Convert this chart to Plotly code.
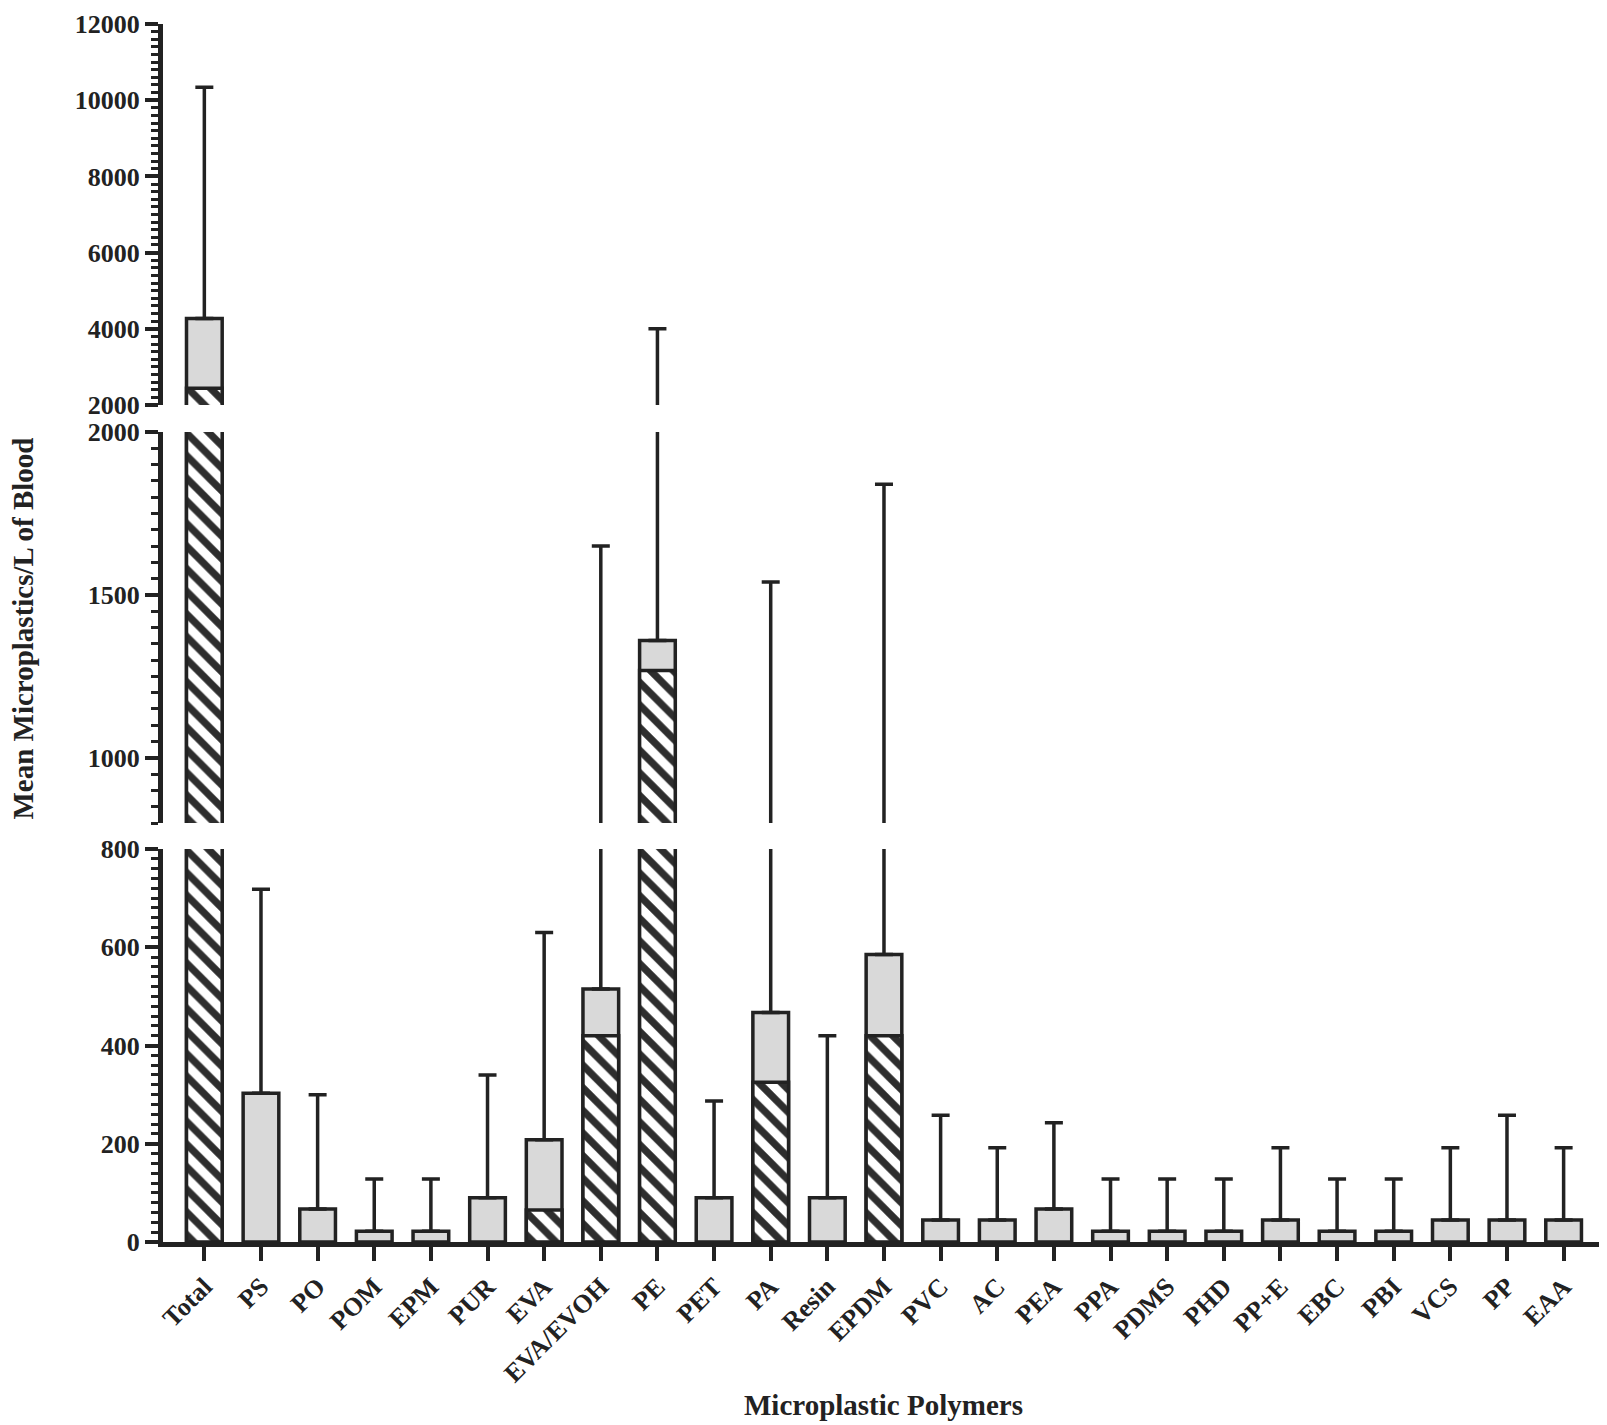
import plotly.graph_objects as go

categories = ["Total", "PS", "PO", "POM", "EPM", "PUR", "EVA", "EVA/EVOH", "PE", "PET",
              "PA", "Resin", "EPDM", "PVC", "AC", "PEA", "PPA", "PDMS", "PHD", "PP+E",
              "EBC", "PBI", "VCS", "PP", "EAA"]
mean_values = [4270, 303, 67, 22, 22, 90, 208, 515, 1360, 90,
               467, 90, 585, 45, 45, 67, 22, 22, 22, 45,
               22, 22, 45, 45, 45]
hatched_values = [2440, None, None, None, None, None, 65, 420, 1268, None,
                  325, None, 420, None, None, None, None, None, None, None,
                  None, None, None, None, None]
upper_values = [10340, 718, 300, 128, 128, 340, 630, 1650, 4000, 287,
                1540, 420, 1840, 258, 192, 243, 128, 128, 128, 192,
                128, 128, 192, 258, 192]

segments = [
    dict(axis="y", rng=[0, 800], major=[0, 200, 400, 600, 800], minor=20, ends=[800]),
    dict(axis="y2", rng=[800, 2000], major=[1000, 1500, 2000], minor=50, ends=[800, 2000]),
    dict(axis="y3", rng=[2000, 12000], major=[2000, 4000, 6000, 8000, 10000, 12000], minor=200, ends=[2000]),
]

INK = "#222222"
GREY = "#d9d9d9"
FONT = "Liberation Serif"

plus = [u - m for u, m in zip(upper_values, mean_values)]
minus = [0] * len(mean_values)

fig = go.Figure()
for seg in segments:
    fig.add_trace(go.Bar(
        x=categories, y=mean_values, xaxis="x", yaxis=seg["axis"],
        marker=dict(color=GREY, line=dict(color=INK, width=3.5)),
        error_y=dict(type="data", symmetric=False, array=plus, arrayminus=minus,
                     color=INK, thickness=3.5, width=9),
        showlegend=False, hoverinfo="x+y",
    ))
    fig.add_trace(go.Bar(
        x=categories, y=hatched_values, xaxis="x", yaxis=seg["axis"],
        marker=dict(color="white", line=dict(color=INK, width=3.5),
                    pattern=dict(shape="\\", fgcolor="#2e2e2e", bgcolor="white",
                                 fgopacity=1, fillmode="replace",
                                 size=16, solidity=0.45)),
        showlegend=False, hoverinfo="x+y",
    ))

TOP = 16.0
BOTTOM = 1234.0
H_TOTAL = BOTTOM - TOP
def frac(px_from_bottom):
    return px_from_bottom / H_TOTAL

domains = {
    "y": [0.0, frac(BOTTOM - 841)],
    "y2": [frac(BOTTOM - 815), frac(BOTTOM - 424)],
    "y3": [frac(BOTTOM - 397), 1.0],
}

tickfont = dict(family=FONT, size=26, color=INK, weight="bold")

layout = dict(
    width=1599, height=1417,
    margin=dict(l=155, r=6, t=int(TOP), b=1417 - int(BOTTOM)),
    paper_bgcolor="white", plot_bgcolor="white",
    barmode="overlay", bargap=0.37,
    showlegend=False,
    xaxis=dict(
        anchor="y", range=[-0.73, 24.66], type="category",
        showline=True, linecolor=INK, linewidth=5,
        ticks="outside", ticklen=14, tickwidth=4, tickcolor=INK,
        tickangle=-45, tickfont=tickfont, showgrid=False, zeroline=False,
        automargin=False,
    ),
)

overlay_ids = {"y": "y4", "y2": "y5", "y3": "y6"}
for seg in segments:
    name = "yaxis" if seg["axis"] == "y" else "yaxis" + seg["axis"][1:]
    layout[name] = dict(
        domain=domains[seg["axis"]], anchor="x", range=seg["rng"],
        showline=True, linecolor=INK, linewidth=5,
        ticks="outside", ticklen=13, tickwidth=4, tickcolor=INK,
        tickvals=seg["major"], ticktext=[str(v) for v in seg["major"]],
        tickfont=tickfont, showgrid=False, zeroline=False, automargin=False,
        ticklabeloverflow="allow",
        minor=dict(dtick=seg["minor"], ticks="outside", ticklen=7, tickwidth=3,
                   tickcolor=INK, showgrid=False),
    )
    oid = overlay_ids[seg["axis"]]
    layout["yaxis" + oid[1:]] = dict(
        domain=domains[seg["axis"]], anchor="x", overlaying=seg["axis"],
        range=seg["rng"], showline=False, ticks="inside", ticklen=9, tickwidth=4,
        tickcolor=INK, tickvals=seg["ends"], showticklabels=False,
        showgrid=False, zeroline=False, automargin=False,
    )

fig.update_layout(**layout)

title_font = dict(family=FONT, size=29, color=INK, weight="bold")
fig.add_annotation(text="Microplastic Polymers", xref="paper", yref="paper",
                   x=0.501, y=frac(BOTTOM - 1397), xanchor="center", yanchor="middle",
                   showarrow=False, font=title_font)
fig.add_annotation(text="Mean Microplastics/L of Blood", xref="paper", yref="paper",
                   x=(14.6 - 155) / 1438.0, y=frac(BOTTOM - 621), xanchor="center",
                   yanchor="middle", textangle=-90, showarrow=False, font=title_font)

fig.write_html("out.html")
